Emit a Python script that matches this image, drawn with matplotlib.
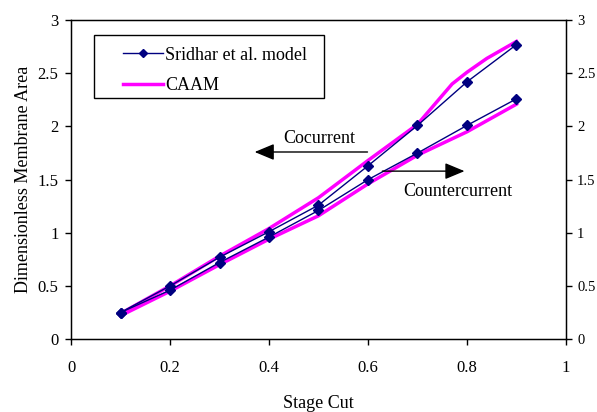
import matplotlib
matplotlib.use("Agg")
import matplotlib.pyplot as plt
from matplotlib.patches import Rectangle

plt.rcParams['font.family'] = ['Liberation Serif', 'DejaVu Serif']

# Sridhar et al. model results (markers)
stage_cut = [0.1, 0.2, 0.3, 0.4, 0.5, 0.6, 0.7, 0.8, 0.9]
sridhar_cocurrent = [0.25, 0.50, 0.77, 1.01, 1.26, 1.63, 2.01, 2.42, 2.77]
sridhar_counter = [0.25, 0.46, 0.72, 0.96, 1.21, 1.50, 1.75, 2.01, 2.26]

# CAAM results (smooth curves)
caam_cocurrent_x = [0.1, 0.2, 0.3, 0.4, 0.5, 0.6, 0.7, 0.77, 0.80, 0.84, 0.9]
caam_cocurrent_y = [0.24, 0.50, 0.78, 1.04, 1.33, 1.68, 2.02, 2.40, 2.51, 2.64, 2.80]
caam_counter_x = [0.1, 0.2, 0.3, 0.4, 0.5, 0.6, 0.7, 0.8, 0.9]
caam_counter_y = [0.22, 0.45, 0.70, 0.94, 1.16, 1.46, 1.73, 1.95, 2.21]

x_ticks = [0, 0.2, 0.4, 0.6, 0.8, 1]
y_ticks = [0, 0.5, 1, 1.5, 2, 2.5, 3]
x_tick_labels = ['0', '0.2', '0.4', '0.6', '0.8', '1']
y_tick_labels = ['0', '0.5', '1', '1.5', '2', '2.5', '3']

navy = '#000080'
magenta = '#FF00FF'

fig = plt.figure(figsize=(5.97, 4.12), dpi=100)
ax = fig.add_axes([0.119, 0.177, 0.829, 0.774])

ax.plot(caam_cocurrent_x, caam_cocurrent_y, color=magenta, lw=2.5, zorder=2)
ax.plot(caam_counter_x, caam_counter_y, color=magenta, lw=2.5, zorder=2)
l1, = ax.plot(stage_cut, sridhar_cocurrent, color=navy, lw=1, marker='D',
              ms=5.5, zorder=3)
ax.plot(stage_cut, sridhar_counter, color=navy, lw=1, marker='D', ms=5.5, zorder=3)
l2, = ax.plot([], [], color=magenta, lw=2.5)

ax.set_xlim(0, 1)
ax.set_ylim(0, 3)
ax.set_xticks(x_ticks)
ax.set_xticklabels(x_tick_labels)
ax.set_yticks(y_ticks)
ax.set_yticklabels(y_tick_labels)
ax.tick_params(axis='both', direction='out', length=4, width=1, labelsize=12,
               colors='black')
ax.tick_params(axis='x', pad=11)
ax.tick_params(axis='y', pad=5)
for s in ax.spines.values():
    s.set_linewidth(1)

ax2 = ax.twinx()
ax2.set_ylim(0, 3)
ax2.set_yticks(y_ticks)
ax2.set_yticklabels(y_tick_labels)
ax2.tick_params(axis='y', direction='out', length=4, width=1, labelsize=10.5, pad=4)

ax.set_xlabel('Stage Cut', fontsize=13, labelpad=14)
ax.set_ylabel('Dimensionless Membrane Area', fontsize=13, labelpad=4)

# Legend box with the entries inset from its left edge
ax.add_patch(Rectangle((0.046, 0.755), 0.466, 0.198, transform=ax.transAxes,
                       facecolor='white', edgecolor='black', lw=1, zorder=4))
leg = ax.legend([l1, l2], ['Sridhar et al. model', 'CAAM'], loc='upper left',
                bbox_to_anchor=(0.096, 0.931), fontsize=13, frameon=False,
                borderpad=0.25, handlelength=2.2, handletextpad=0.15,
                labelspacing=0.75, borderaxespad=0, markerscale=0.8)
leg.set_zorder(5)

# Arrows indicating which axis each curve family belongs to
arrow_style = dict(arrowstyle='-|>,head_length=0.6,head_width=0.25',
                   color='black', lw=1, mutation_scale=20, shrinkA=0, shrinkB=0)
ax.annotate('', xy=(0.371, 1.76), xytext=(0.599, 1.76), arrowprops=arrow_style)
ax.text(0.502, 1.89, 'Cocurrent', ha='center', va='center', fontsize=13)
ax.annotate('', xy=(0.795, 1.58), xytext=(0.629, 1.58), arrowprops=arrow_style)
ax.text(0.782, 1.385, 'Countercurrent', ha='center', va='center', fontsize=13)

fig.savefig('out.png', dpi=100)
